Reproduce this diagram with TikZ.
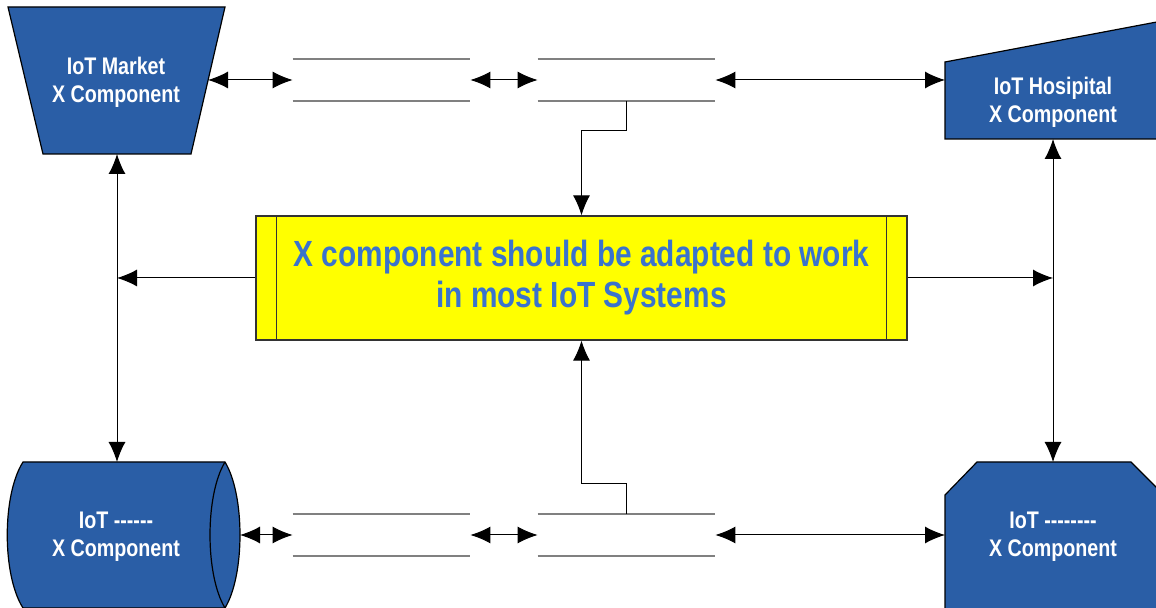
\documentclass[tikz,border=0pt]{standalone}
\usepackage{fontspec}
\setmainfont{Liberation Sans}[FakeStretch=0.82, Ligatures=TeXOff]
\usetikzlibrary{arrows.meta,calc}
\definecolor{compblue}{RGB}{42,94,166}
\definecolor{goaltext}{RGB}{58,115,205}
\definecolor{goalfill}{RGB}{255,255,0}
\tikzset{
  comp/.style={fill=compblue, draw=black, line width=0.6pt},
  comptext/.style={text=white, align=center, font=\bfseries\fontsize{12}{14}\selectfont},
  store/.style={minimum width=88.5pt, minimum height=20.5pt, inner sep=0pt},
  storeline/.style={draw=black!50, line width=0.8pt},
  link/.style={line width=0.5pt, -{Latex[length=10pt,width=8.5pt]}},
  both/.style={line width=0.5pt, {Latex[length=10pt,width=8.5pt]}-{Latex[length=10pt,width=8.5pt]}}
}
\begin{document}
\begin{tikzpicture}[x=0.5pt,y=-0.5pt]
      \path[use as bounding box, clip] (0,0) rectangle (1156,608);
      % component shapes
      \draw[comp] (8,7) -- (225,7) -- (191,154) -- (43,154) -- cycle;
      \draw[comp] (945,62) -- (1162,21) -- (1162,139) -- (945,139) -- cycle;
      \draw[comp] (225,462) -- (23,462)
        .. controls (2,495) and (2,575) .. (23,608)
        -- (225,608)
        .. controls (245,575) and (245,495) .. (225,462) -- cycle;
      \draw[line width=0.6pt] (225,462) .. controls (205,495) and (205,575) .. (225,608);
      \draw[comp] (977,462) -- (1131,462) -- (1164,495) -- (1164,620)
        -- (945,620) -- (945,495) -- cycle;
      \node[comptext] (market) at (116,82) {IoT Market\\X Component};
      \node[comptext] (hospital) at (1053,102) {IoT Hosipital\\X Component};
      \node[comptext] (devA) at (116,537) {IoT ------\\X Component};
      \node[comptext] (devB) at (1053,537) {IoT --------\\X Component};
      \coordinate (market-e) at (208,80);
      \coordinate (market-s) at (117,154);
      \coordinate (hospital-w) at (945,80);
      \coordinate (hospital-s) at (1053,139);
      \coordinate (devA-e) at (240,535);
      \coordinate (devA-n) at (117,462);
      \coordinate (devB-w) at (945,535);
      \coordinate (devB-n) at (1053,462);
      % goal box
      \node[fill=goalfill, draw=black!80, line width=0.6pt, minimum width=325.5pt,
        minimum height=62pt, align=center, text=goaltext,
        font=\bfseries\fontsize{18.2}{20.5}\selectfont] (goal) at (581.5,278)
        {X component should be adapted to work\\in most IoT Systems};
      \draw[draw=black!80, line width=0.6pt]
        ([xshift=10.5pt]goal.north west) -- ([xshift=10.5pt]goal.south west)
        ([xshift=-10.5pt]goal.north east) -- ([xshift=-10.5pt]goal.south east);
      % data stores
      \node[store] (up1) at (381.5,80) {};
      \node[store] (up2) at (626.5,80) {};
      \node[store] (lo1) at (381.5,535) {};
      \node[store] (lo2) at (626.5,535) {};
      \foreach \s in {up1,up2,lo1,lo2}
        \draw[storeline] (\s.north west) -- (\s.north east)
          (\s.south west) -- (\s.south east);
      % connectors
      \draw[both] (market-e) -- (up1.west);
      \draw[both] (up1.east) -- (up2.west);
      \draw[both] (up2.east) -- (hospital-w);
      \draw[both] (devA-e) -- (lo1.west);
      \draw[both] (lo1.east) -- (lo2.west);
      \draw[both] (lo2.east) -- (devB-w);
      \draw[both] (market-s) -- (devA-n);
      \draw[both] (hospital-s) -- (devB-n);
      \draw[link] (goal.west) -- (goal.west -| market-s);
      \draw[link] (goal.east) -- (goal.east -| hospital-s);
      \draw[link] (up2.south) -- ++(0,30) -| (goal.north);
      \draw[link] (lo2.north) -- ++(0,-31) -| (goal.south);
    \end{tikzpicture}
\end{document}
